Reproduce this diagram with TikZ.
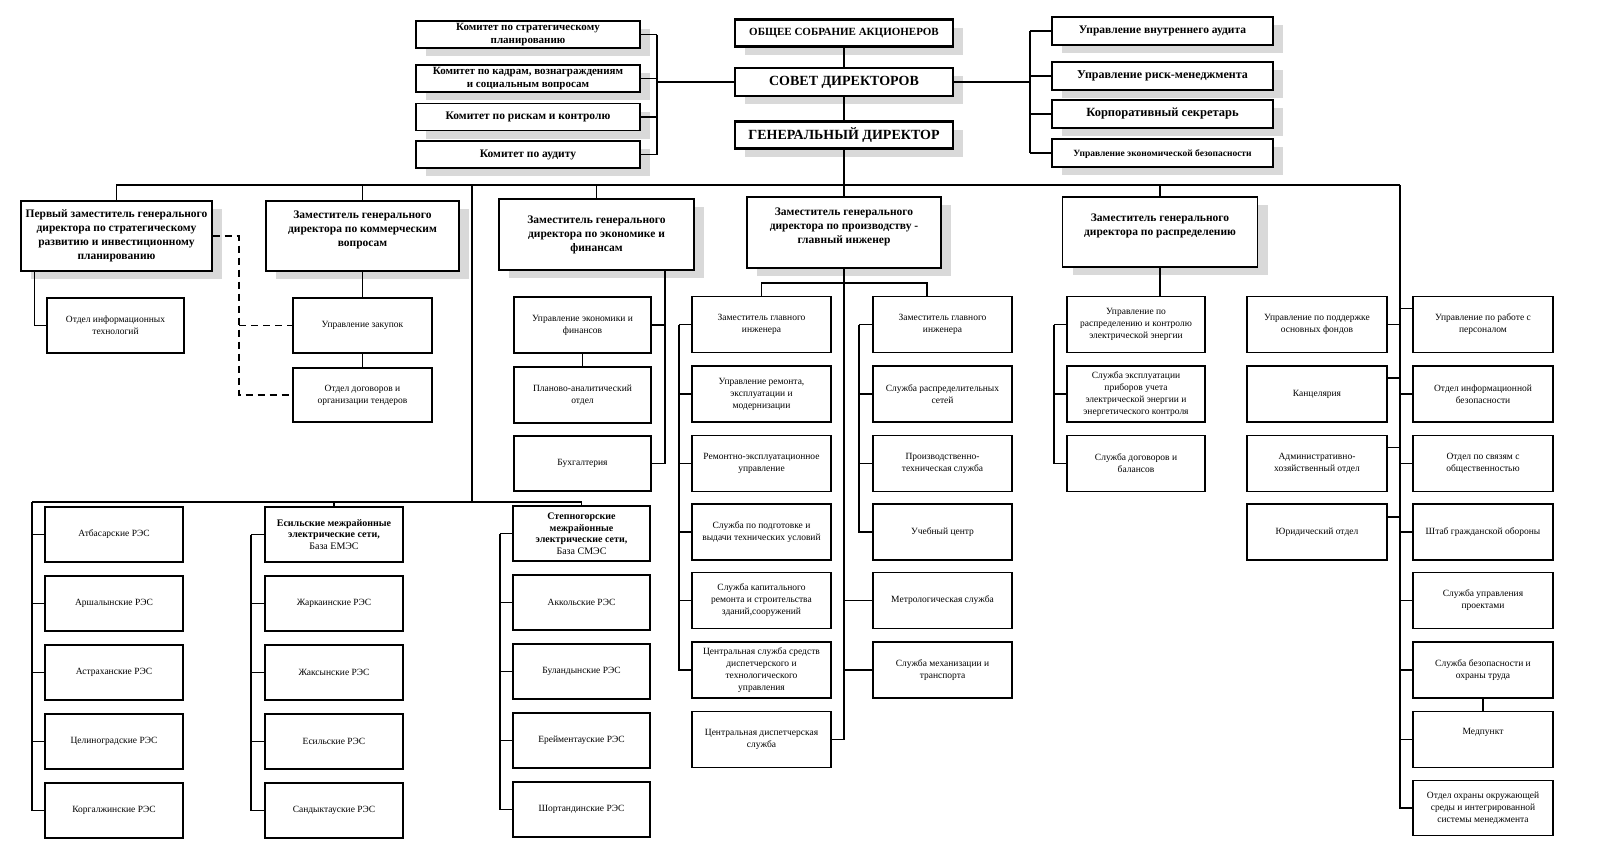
\documentclass[tikz,border=0pt]{standalone}
\usepackage{fontspec}
\setmainfont{Liberation Serif}
\usetikzlibrary{shadows}

\tikzset{
  box/.style={draw, fill=white, align=center, inner sep=1pt, line width=1.1pt,
    minimum width=139, minimum height=56, font=\fontsize{9.5}{12}\selectfont},
  shbox/.style={box, drop shadow={shadow xshift=10pt, shadow yshift=-8pt, fill=black!15, opacity=1}},
  headbox/.style={shbox, line width=2.2pt, minimum width=218, minimum height=27,
    font=\bfseries\fontsize{14}{16}\selectfont},
  combox/.style={shbox, minimum width=224, minimum height=27, font=\bfseries\fontsize{11}{12.5}\selectfont},
  depbox/.style={shbox, minimum height=70, font=\bfseries\fontsize{11.5}{14}\selectfont},
  resbox/.style={box, minimum width=138, minimum height=55}
}

\begin{document}
\begin{tikzpicture}[x=1pt, y=-1pt, line width=1.1pt]
  \path[use as bounding box, fill=white] (0,0) rectangle (1600,855);

  % top of the company
  \begin{scope}[every node/.style={headbox}]
    \node (obs) at (844,33)  [font=\bfseries\fontsize{11}{13}\selectfont] {ОБЩЕЕ СОБРАНИЕ АКЦИОНЕРОВ};
    \node (sov) at (844,82)  [minimum height=28] {СОВЕТ ДИРЕКТОРОВ};
    \node (gd)  at (844,135) {ГЕНЕРАЛЬНЫЙ ДИРЕКТОР};
  \end{scope}

  % committees
  \begin{scope}[every node/.style={combox}]
    \node (k1) at (528,34.5)  {Комитет по стратегическому\\планированию};
    \node (k2) at (528,78.5)  {Комитет по кадрам, вознаграждениям\\и социальным вопросам};
    \node (k3) at (528,117)   [font=\bfseries\fontsize{11.5}{13}\selectfont] {Комитет по рискам и контролю};
    \node (k4) at (528,154.5) [font=\bfseries\fontsize{11.5}{13}\selectfont] {Комитет по аудиту};
  \end{scope}

  \begin{scope}[every node/.style={combox, minimum width=221, minimum height=28}]
    \node (u1) at (1162.5,31)  [font=\bfseries\fontsize{11.5}{13}\selectfont] {Управление внутреннего аудита};
    \node (u2) at (1162.5,76)  [font=\bfseries\fontsize{12}{13}\selectfont] {Управление риск-менеджмента};
    \node (u3) at (1162.5,114) [font=\bfseries\fontsize{12.5}{14}\selectfont] {Корпоративный секретарь};
    \node (u4) at (1162.5,153) [font=\bfseries\fontsize{9.5}{11}\selectfont] {\mbox{}\\[-2pt]Управление экономической безопасности};
  \end{scope}

  % deputies
  \begin{scope}[every node/.style={depbox}]
    \node (d1) at (116.5,236) [minimum width=191] {Первый заместитель генерального\\директора по стратегическому\\развитию и инвестиционному\\планированию};
    \node (d2) at (362.5,236) [minimum width=193] {Заместитель генерального\\директора по коммерческим\\вопросам\\\mbox{}};
    \node (d3) at (596.5,234.5) [minimum width=195, minimum height=71] {Заместитель генерального\\директора по экономике и\\финансам};
    \node (d4) at (844,232.5) [minimum width=194, minimum height=71] {Заместитель генерального\\директора по производству -\\главный инженер\\\mbox{}};
    \node (d5) at (1160,232) [minimum width=195] {Заместитель генерального\\директора по распределению\\\mbox{}};
  \end{scope}

  % departments
  \begin{scope}[every node/.style={box}]
    \node (it)  at (115.5,325.5) [minimum width=137, minimum height=55] {Отдел информационных\\технологий};
    \node (zak) at (362.5,325.5) [minimum height=55] {Управление закупок};
    \node (dog) at (362.5,395)   [minimum height=54] {Отдел  договоров и\\организации тендеров};

    \node (ue) at (582.5,325)   [minimum width=137] {Управление экономики и\\финансов};
    \node (pa) at (582.5,395)   [minimum width=137] {Планово-аналитический\\отдел};
    \node (bu) at (582.5,463.5) [minimum width=137, minimum height=55] {Бухгалтерия};

    \node (zg1) at (761.5,324.5) {Заместитель главного\\инженера};
    \node (ur)  at (761.5,394)   {Управление ремонта,\\эксплуатации и\\модернизации};
    \node (re)  at (761.5,463.5) {Ремонтно-эксплуатационное\\управление};
    \node (sp)  at (761.5,532)   {Служба по подготовке и\\выдачи технических условий};
    \node (sk)  at (761.5,600.5) {Служба  капитального\\ремонта и строительства\\зданий,сооружений};
    \node (cs)  at (761.5,670)   {Центральная служба средств\\диспетчерского и\\технологического\\управления};
    \node (cd)  at (761.5,739.5) {Центральная диспетчерская\\служба};

    \node (zg2) at (942.5,324.5) {Заместитель главного\\инженера};
    \node (srs) at (942.5,394)   {Служба распределительных\\сетей};
    \node (pts) at (942.5,463.5) {Производственно-\\техническая служба};
    \node (uc)  at (942.5,532)   {Учебный центр};
    \node (ms)  at (942.5,600.5) {Метрологическая  служба};
    \node (smt) at (942.5,670)   {Служба механизации и\\транспорта};

    \node (upr) at (1136,324.5) [minimum width=138] {Управление по\\распределению и контролю\\электрической энергии};
    \node (sep) at (1136,394)   [minimum width=138] {Служба эксплуатации\\приборов учета\\электрической энергии и\\энергетического контроля};
    \node (sdb) at (1136,463.5) [minimum width=138] {Служба договоров и\\балансов};

    \node (pod)  at (1317,324.5) [minimum width=140] {Управление по поддержке\\основных фондов};
    \node (kan)  at (1317,394)   [minimum width=140] {Канцелярия};
    \node (ahs)  at (1317,463.5) [minimum width=140] {Административно-\\хозяйственный отдел};
    \node (yur)  at (1317,532)   [minimum width=140] {Юридический отдел};

    \node (pk)   at (1483,324.5) [minimum width=140] {Управление по работе с\\персоналом};
    \node (oib)  at (1483,394)   [minimum width=140] {Отдел информационной\\безопасности};
    \node (oso)  at (1483,463.5) [minimum width=140] {Отдел по связям  с\\общественностью};
    \node (shgo) at (1483,532)   [minimum width=140] {Штаб гражданской обороны};
    \node (sup)  at (1483,600.5) [minimum width=140] {Служба управления\\проектами};
    \node (sbo)  at (1483,670)   [minimum width=140] {Служба безопасности и\\охраны труда};
    \node (med)  at (1483,739.5) [minimum width=140] {Медпункт\\[4pt]\mbox{}};
    \node (ooc)  at (1483,808)   [minimum width=140, minimum height=55] {Отдел охраны окружающей\\среды и интегрированной\\системы менеджмента};
  \end{scope}

  % RES
  \begin{scope}[every node/.style={resbox}]
    \node (a1) at (114,534.5) {Атбасарские РЭС};
    \node (a2) at (114,603.5) {Аршалынские РЭС};
    \node (a3) at (114,672.5) {Астраханские РЭС};
    \node (a4) at (114,741.5) {Целиноградские РЭС};
    \node (a5) at (114,810.5) {Коргалжинские РЭС};

    \node (esb) at (334,534.5) [font=\fontsize{10}{11.5}\selectfont] {\textbf{Есильские межрайонные}\\\textbf{электрические сети,}\\База ЕМЭС};
    \node (b2)  at (334,603.5) {Жаркаинские РЭС};
    \node (b3)  at (334,672.5) {Жаксынские РЭС};
    \node (b4)  at (334,741.5) {Есильские РЭС};
    \node (b5)  at (334,810.5) {Сандыктауские РЭС};

    \node (stb) at (581.5,533.5) [minimum width=137, font=\fontsize{10}{11.5}\selectfont] {\textbf{Степногорские}\\\textbf{межрайонные}\\\textbf{электрические сети,}\\База  СМЭС};
    \node (c2)  at (581.5,602.5) [minimum width=137] {Аккольские РЭС};
    \node (c3)  at (581.5,671.5) [minimum width=137] {Буландынские РЭС};
    \node (c4)  at (581.5,740.5) [minimum width=137] {Ерейментауские РЭС};
    \node (c5)  at (581.5,809.5) [minimum width=137] {Шортандинские РЭС};
  \end{scope}

  % spine points
  \coordinate (kb)  at (657,0);
  \coordinate (ub)  at (1030,0);
  \coordinate (bl)  at (116.5,185);
  \coordinate (br)  at (1400,185);
  \coordinate (rt)  at (472,185);
  \coordinate (ra)  at (32,502);
  \coordinate (rbx) at (251,0);
  \coordinate (rcx) at (500,0);
  \coordinate (dj)  at (239,236);
  \coordinate (ev)  at (665,0);
  \coordinate (zb)  at (927,283);
  \coordinate (lv)  at (679,0);
  \coordinate (rv)  at (859,0);
  \coordinate (pv)  at (1054,0);

  % board and committees
  \draw (obs.south) -- (sov.north);
  \draw (sov.south) -- (gd.north);
  \draw (sov.west) -- (sov.west -| kb);
  \draw (kb |- k1.east) -- (kb |- k4.east);
  \draw (k1.east) -- (k1.east -| kb);
  \draw (k2.east) -- (k2.east -| kb);
  \draw (k3.east) -- (k3.east -| kb);
  \draw (k4.east) -- (k4.east -| kb);
  \draw (sov.east) -- (sov.east -| ub);
  \draw (ub |- u1.west) -- (ub |- u4.west);
  \draw (u1.west) -- (u1.west -| ub);
  \draw (u2.west) -- (u2.west -| ub);
  \draw (u3.west) -- (u3.west -| ub);
  \draw (u4.west) -- (u4.west -| ub);

  % deputies
  \draw (gd.south) -- (d4.north);
  \draw (d1.north) |- (br);
  \draw (d2.north) -- (d2.north |- bl);
  \draw (d3.north) -- (d3.north |- bl);
  \draw (d5.north) -- (d5.north |- bl);

  \draw ([xshift=14pt]d1.south west) |- (it.west);
  \draw[dash pattern=on 7pt off 5pt] (d1.east) -- (dj) |- (dog.west);
  \draw[dash pattern=on 7pt off 5pt] (dj |- zak.west) -- (zak.west);
  \draw (d2.south) -- (zak.north);
  \draw (zak.south) -- (dog.north);

  \draw (d3.south -| ev) |- (bu.east);
  \draw (ue.east) -- (ue.east -| ev);
  \draw (ue.south) -- (pa.north);

  \draw (d4.south) |- (cd.east);
  \draw (zg1.north) |- (zb) -- (zb |- zg2.north);
  \draw (zg1.west -| lv) |- (cs.west);
  \draw (zg1.west) -- (zg1.west -| lv);
  \draw (ur.west) -- (ur.west -| lv);
  \draw (re.west) -- (re.west -| lv);
  \draw (sp.west) -- (sp.west -| lv);
  \draw (sk.west) -- (sk.west -| lv);
  \draw (zg2.west -| rv) |- (uc.west);
  \draw (zg2.west) -- (zg2.west -| rv);
  \draw (srs.west) -- (srs.west -| rv);
  \draw (pts.west) -- (pts.west -| rv);
  \draw (ms.west) -- (ms.west -| d4.south);
  \draw (smt.west) -- (smt.west -| d4.south);

  \draw (d5.south) -- (d5.south |- upr.north);
  \draw (upr.west -| pv) |- (sdb.west);
  \draw (upr.west) -- (upr.west -| pv);
  \draw (sep.west) -- (sep.west -| pv);

  % services under the general director
  \draw (br) |- (ooc.west);
  \draw (pod.east) -- (pod.east -| br);
  \draw ([yshift=16pt]kan.east) -- ([yshift=16pt]kan.east -| br);
  \draw ([yshift=16pt]ahs.east) -- ([yshift=16pt]ahs.east -| br);
  \draw ([yshift=15pt]yur.east) -- ([yshift=15pt]yur.east -| br);
  \draw ([yshift=16pt]pk.west) -- ([yshift=16pt]pk.west -| br);
  \draw (oib.west) -- (oib.west -| br);
  \draw (oso.west) -- (oso.west -| br);
  \draw (shgo.west) -- (shgo.west -| br);
  \draw (sup.west) -- (sup.west -| br);
  \draw (sbo.west) -- (sbo.west -| br);
  \draw (med.west) -- (med.west -| br);
  \draw (sbo.south) -- (med.north);

  % RES
  \draw (rt) -- (rt |- ra);
  \draw (ra) -| (stb.north);
  \draw (esb.north) -- (esb.north |- ra);
  \draw (ra) |- (a5.west);
  \draw (a1.west) -- (a1.west -| ra);
  \draw (a2.west) -- (a2.west -| ra);
  \draw (a3.west) -- (a3.west -| ra);
  \draw (a4.west) -- (a4.west -| ra);
  \draw (esb.west -| rbx) |- (b5.west);
  \draw (esb.west) -- (esb.west -| rbx);
  \draw (b2.west) -- (b2.west -| rbx);
  \draw (b3.west) -- (b3.west -| rbx);
  \draw (b4.west) -- (b4.west -| rbx);
  \draw (stb.west -| rcx) |- (c5.west);
  \draw (stb.west) -- (stb.west -| rcx);
  \draw (c2.west) -- (c2.west -| rcx);
  \draw (c3.west) -- (c3.west -| rcx);
  \draw (c4.west) -- (c4.west -| rcx);

\end{tikzpicture}
\end{document}
